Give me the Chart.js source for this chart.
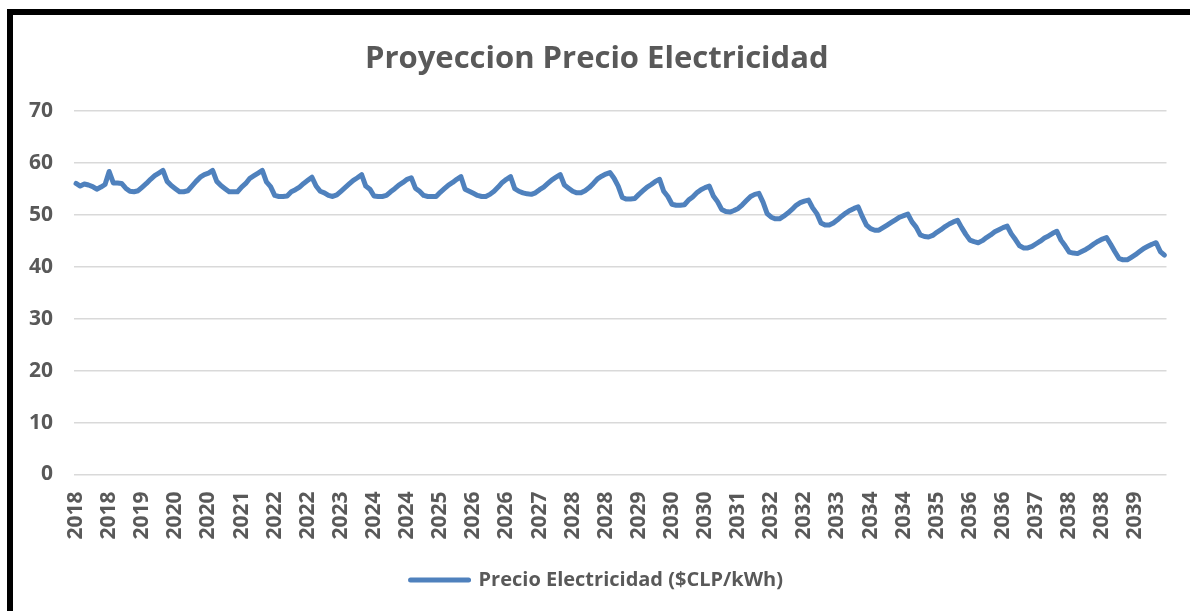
<!DOCTYPE html>
<html lang="es">
<head>
<meta charset="utf-8">
<title>Proyeccion Precio Electricidad</title>
<script src="https://cdn.jsdelivr.net/npm/chart.js@4/dist/chart.umd.min.js"></script>
<style>
    html, body { margin: 0; padding: 0; background: #fff; overflow: hidden; }
    #contenedor { position: relative; width: 1190px; height: 611px; }
    #marco {
        position: absolute; left: 7px; top: 9px; width: 1300px; height: 700px;
        border: 6px solid #000; pointer-events: none;
    }
    canvas { position: absolute; left: 0; top: 0; }
</style>
</head>
<body>
<div id="contenedor">
    <canvas id="grafico" width="1190" height="611"></canvas>
    <div id="marco"></div>
</div>
<script>
// Años de la proyección (12 meses cada uno)
const anios = [2018, 2019, 2020, 2021, 2022, 2023, 2024, 2025, 2026, 2027, 2028,
               2029, 2030, 2031, 2032, 2033, 2034, 2035, 2036, 2037, 2038, 2039];

// Precio mensual ($CLP/kWh), una fila por año, ene -> dic
const precios = [
    56.0, 55.5, 55.9, 55.7, 55.4, 54.9, 55.3, 55.8, 58.3, 56.1, 56.1, 56.0, // 2018
    55.1, 54.5, 54.4, 54.6, 55.3, 56.0, 56.8, 57.5, 58.0, 58.5, 56.4, 55.6, // 2019
    55.0, 54.4, 54.4, 54.6, 55.5, 56.4, 57.2, 57.7, 58.0, 58.5, 56.4, 55.6, // 2020
    55.0, 54.4, 54.4, 54.4, 55.3, 56.0, 57.0, 57.5, 58.0, 58.5, 56.3, 55.4, // 2021
    53.7, 53.5, 53.5, 53.6, 54.4, 54.8, 55.3, 56.0, 56.6, 57.2, 55.5, 54.5, // 2022
    54.2, 53.7, 53.5, 53.8, 54.5, 55.2, 55.9, 56.6, 57.1, 57.7, 55.5, 54.9, // 2023
    53.6, 53.5, 53.5, 53.7, 54.4, 55.0, 55.7, 56.2, 56.8, 57.1, 55.1, 54.5, // 2024
    53.7, 53.5, 53.5, 53.5, 54.3, 55.0, 55.7, 56.2, 56.8, 57.3, 54.9, 54.5, // 2025
    54.1, 53.7, 53.5, 53.5, 53.9, 54.5, 55.3, 56.2, 56.8, 57.3, 55.0, 54.5, // 2026
    54.2, 54.0, 53.9, 54.2, 54.8, 55.3, 56.0, 56.7, 57.2, 57.7, 55.7, 55.1, // 2027
    54.5, 54.2, 54.2, 54.6, 55.2, 56.0, 56.9, 57.4, 57.8, 58.1, 57.0, 55.5, // 2028
    53.3, 53.0, 53.0, 53.1, 53.9, 54.6, 55.3, 55.8, 56.4, 56.8, 54.5, 53.5, // 2029
    52.0, 51.8, 51.8, 51.9, 52.8, 53.4, 54.2, 54.8, 55.2, 55.5, 53.6, 52.5, // 2030
    51.0, 50.6, 50.5, 50.8, 51.2, 51.9, 52.7, 53.5, 53.9, 54.1, 52.4, 50.2, // 2031
    49.5, 49.2, 49.2, 49.7, 50.3, 51.0, 51.8, 52.3, 52.6, 52.8, 51.3, 50.2, // 2032
    48.4, 48.0, 48.0, 48.4, 49.0, 49.7, 50.3, 50.8, 51.2, 51.5, 49.6, 48.0, // 2033
    47.3, 47.0, 47.0, 47.5, 48.0, 48.5, 49.0, 49.5, 49.8, 50.1, 48.6, 47.6, // 2034
    46.1, 45.8, 45.7, 46.0, 46.6, 47.1, 47.7, 48.2, 48.6, 48.9, 47.5, 46.2, // 2035
    45.1, 44.8, 44.6, 45.0, 45.6, 46.1, 46.7, 47.1, 47.5, 47.8, 46.3, 45.2, // 2036
    44.0, 43.6, 43.6, 43.9, 44.4, 44.9, 45.5, 45.9, 46.4, 46.8, 45.1, 44.0, // 2037
    42.8, 42.6, 42.5, 42.9, 43.3, 43.8, 44.4, 44.9, 45.3, 45.6, 44.3, 42.9, // 2038
    41.6, 41.3, 41.3, 41.8, 42.3, 42.9, 43.5, 43.9, 44.3, 44.6, 42.9, 42.2  // 2039
];

// eje Y
const ticksY = [0, 10, 20, 30, 40, 50, 60, 70];

// una etiqueta (el año) por mes, se muestra cada 8 meses como en el original
const etiquetas = anios.flatMap(a => Array(12).fill(String(a)));
const cadaMeses = 8;

const gris = "#595959";
const azul = "#4f81bd";
const fuente = "'Open Sans', 'Noto Sans', sans-serif";

new Chart(document.getElementById("grafico").getContext("2d"), {
    type: "line",
    data: {
        labels: etiquetas,
        datasets: [{
            label: "Precio Electricidad ($CLP/kWh)",
            data: precios,
            borderColor: azul,
            backgroundColor: azul,
            borderWidth: 5,
            pointRadius: 0,
            tension: 0,
            borderJoinStyle: "round",
            borderCapStyle: "round",
        }],
    },
    options: {
        responsive: false,
        animation: false,
        layout: { padding: { left: 27, right: 23.5, top: 0, bottom: 11 } },
        plugins: {
            title: {
                display: true,
                text: "Proyeccion Precio Electricidad",
                color: gris,
                font: { family: fuente, size: 31, weight: "bold" },
                padding: { top: 40.5, bottom: 33 },
            },
            legend: {
                display: true,
                position: "bottom",
                labels: {
                    color: gris,
                    font: { family: fuente, size: 20, weight: "bold" },
                    boxWidth: 58,
                    boxHeight: 0,
                    padding: 8,
                },
            },
            tooltip: { enabled: false },
        },
        scales: {
            x: {
                offset: true,
                grid: { display: false },
                border: { display: false },
                ticks: {
                    autoSkip: false,
                    maxRotation: 90,
                    minRotation: 90,
                    padding: 9,
                    color: gris,
                    font: { family: fuente, size: 21, weight: "bold" },
                    callback: (v, i) => (i % cadaMeses === 0 ? etiquetas[i] : null),
                },
                afterFit: s => { s.height = 87.5; },
            },
            y: {
                min: ticksY[0],
                max: ticksY[ticksY.length - 1],
                afterBuildTicks: s => { s.ticks = ticksY.map(v => ({ value: v })); },
                afterFit: s => { s.width = 47; },
                grid: { color: "#d9d9d9", lineWidth: 1.5, drawTicks: false },
                border: { display: false },
                ticks: {
                    padding: 21,
                    color: gris,
                    font: { family: fuente, size: 21, weight: "bold" },
                },
            },
        },
    },
});
</script>
</body>
</html>
